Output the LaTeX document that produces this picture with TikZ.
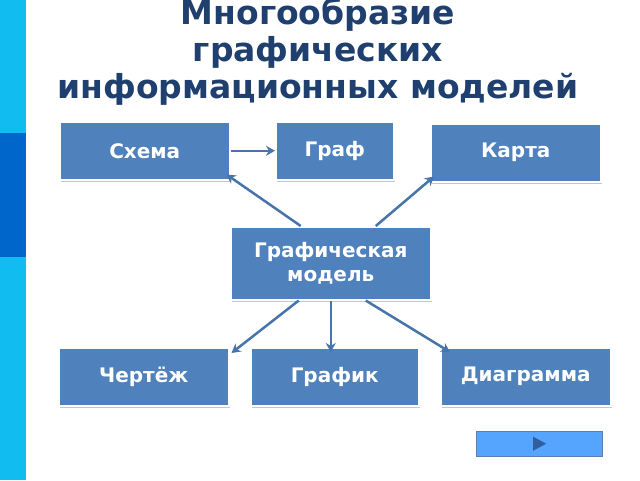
\documentclass[tikz,border=0pt]{standalone}
\usepackage{fontspec}
\setmainfont{DejaVu Sans}
\usetikzlibrary{arrows.meta,calc}
\definecolor{bx}{HTML}{4F81BD}
\definecolor{ttl}{HTML}{1F3F6F}
\definecolor{barl}{HTML}{10BCF0}
\definecolor{bard}{HTML}{0066CC}
\definecolor{btn}{HTML}{55A5FF}
\definecolor{tri}{HTML}{2F5F9F}
\begin{document}
\begin{tikzpicture}[x=1pt,y=-1pt,
 box/.style={draw=white,line width=1.5pt,fill=bx,text=white,font=\bfseries\fontsize{20}{24}\selectfont,align=center,inner sep=0pt,anchor=north west,
   preaction={fill=black!22,transform canvas={shift={(1.5pt,-2.5pt)}}}},
 ar/.style={draw=bx!90!black,line width=2.5pt,-{Stealth[length=9pt,width=10pt]}}]
\useasboundingbox (0,0) rectangle (640,480);
\fill[barl] (0,0) rectangle (26,480);
\fill[bard] (0,133) rectangle (26,257);
\node[text=ttl,font=\bfseries\fontsize{33}{37}\selectfont,align=center] (t) at (318,52) {Многообразие\\графических\\информационных моделей};
\node[box,minimum width=170pt,minimum height=58pt] (s) at (59,121) {Схема};
\node[box,minimum width=118pt,minimum height=58pt] (g) at (275,121) {Граф};
\node[box,minimum width=170pt,minimum height=58pt] (k) at (430,123) {Карта};
\node[box,minimum width=200pt,minimum height=73pt] (m) at (230,226) {Графическая\\модель};
\node[box,minimum width=170pt,minimum height=58pt] (c) at (58,347) {Чертёж};
\node[box,minimum width=168pt,minimum height=58pt] (gr) at (250,347) {График};
\node[box,minimum width=170pt,minimum height=58pt] (d) at (440,347) {Диаграмма};
\draw[ar] (s.east) -- (g.west);
\draw[ar] ([xshift=-30pt]m.north) -- ([xshift=-4pt,yshift=6pt]s.south east);
\draw[ar] ([xshift=45pt]m.north) -- ([xshift=4pt,yshift=6pt]k.south west);
\draw[ar] ([xshift=-32pt]m.south) -- ([xshift=2pt,yshift=-6pt]c.north east);
\draw[ar] (m.south) -- ([yshift=-5pt]m.south |- gr.north);
\draw[ar] ([xshift=35pt]m.south) -- ([xshift=10pt,yshift=-5pt]d.north west);
\node[draw=tri!80,fill=btn,minimum width=126pt,minimum height=25pt,anchor=north west,inner sep=0pt] (b) at (476,431) {};
\fill[tri] ($(b.center)+(-6,-7)$) -- ++(13,7) -- ++(-13,7) -- cycle;
\end{tikzpicture}
\end{document}
